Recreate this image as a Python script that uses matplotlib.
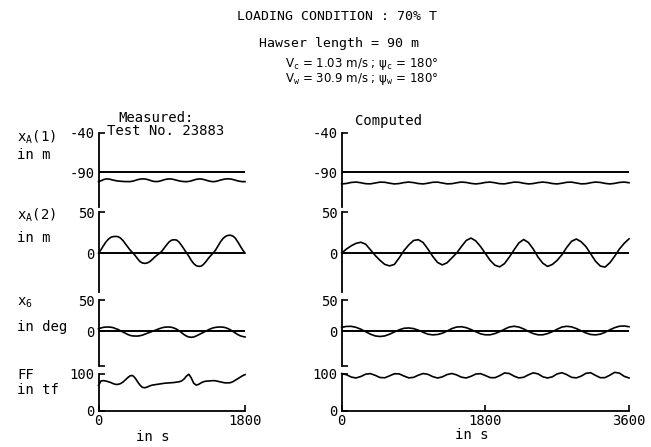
import numpy as np
import matplotlib
matplotlib.use('Agg')
import matplotlib.pyplot as plt

plt.rcParams['font.family'] = ['DejaVu Sans Mono', 'DejaVu Sans']
plt.rcParams['mathtext.fontset'] = 'custom'
plt.rcParams['mathtext.rm'] = 'DejaVu Sans Mono'
plt.rcParams['mathtext.it'] = 'DejaVu Sans Mono'

# measured run, 0..1800 s every 30 s
t_meas = np.arange(0, 1801, 30)
meas_xa1 = [-101.7, -100.8, -99.3, -98.4, -98.4, -99.0, -99.8, -100.5, -101.0, -101.3,
            -101.5, -101.7, -101.7, -101.7, -101.2, -100.3, -99.3, -98.6, -98.3, -98.4,
            -99.0, -100.0, -101.0, -101.6, -101.7, -101.2, -100.3, -99.3, -98.6, -98.3,
            -98.5, -99.2, -100.0, -100.8, -101.4, -101.7, -101.8, -101.5, -100.8, -99.8,
            -98.9, -98.4, -98.4, -99.0, -99.9, -100.8, -101.5, -101.8, -101.5, -100.7,
            -99.8, -99.0, -98.4, -98.2, -98.4, -99.0, -99.9, -100.8, -101.4, -101.8,
            -101.8]
meas_xa2 = [0, 4, 9, 13.5, 17, 19.3, 20.3, 20.5, 20.2, 18.5,
            15.5, 11.5, 7.5, 3.5, 0.5, -3, -7, -10.5, -12.3, -12.7,
            -12.2, -10.5, -8, -5, -2.5, -0.3, 2.5, 6.5, 10.5, 14,
            16, 16.4, 16, 13.5, 9.5, 5, 0.5, -4, -9, -13,
            -15.5, -16.4, -16.2, -14, -10.5, -6.5, -3, 0, 4, 9,
            14, 18, 20.5, 21.8, 22, 21, 18.5, 14, 9, 4,
            0]
meas_x6 = [3.5, 5, 6, 6.5, 6.5, 6.3, 5.5, 4, 2.5, 0.5,
           -1.5, -3.5, -5.5, -7, -7.8, -8, -8, -7.5, -6.5, -5,
           -3.5, -2, -0.5, 1, 2.5, 4, 5.3, 6.2, 6.5, 6.5,
           6, 4.8, 3, 0.5, -2.5, -5.5, -8, -9.5, -10, -9.5,
           -8, -6, -4, -2, 0, 2, 3.8, 5.2, 6, 6.5,
           6.5, 6.3, 5.5, 4, 2, -0.5, -3, -5.5, -7.5, -8.7,
           -9.5]
meas_ff = [68, 80, 81, 80, 78, 76, 73, 71, 71, 73,
           77, 83, 89, 94, 94.5, 88, 78, 69, 63, 62,
           64, 67, 69, 70, 71, 72, 73, 74, 74.5, 75,
           75.5, 76, 77, 78, 80, 85, 93, 98, 88, 74,
           69, 71, 75, 78, 79.5, 80, 80.5, 81, 80.5, 79,
           77.5, 76, 75, 75, 75.5, 78, 82, 86, 90, 94,
           97]

# computed run, 0..3600 s every 60 s
t_comp = np.arange(0, 3601, 60)
comp_xa1 = [-104.7, -104.1, -102.8, -102.3, -103.2, -104.4, -104.6, -103.5, -102.4, -102.6,
            -103.8, -104.7, -104.2, -103.0, -102.3, -103.0, -104.2, -104.7, -103.8, -102.6,
            -102.4, -103.5, -104.6, -104.4, -103.2, -102.3, -102.8, -104.0, -104.7, -104.0,
            -102.8, -102.3, -103.2, -104.4, -104.6, -103.5, -102.4, -102.6, -103.8, -104.7,
            -104.2, -103.0, -102.3, -103.0, -104.2, -104.7, -103.8, -102.6, -102.4, -103.5,
            -104.6, -104.4, -103.2, -102.3, -102.8, -104.0, -104.7, -104.0, -102.8, -102.3,
            -103.2]
comp_xa2 = [0, 5, 9, 12, 13.3, 11, 4, -3, -9, -14,
            -15.8, -14, -6, 3, 10, 15.5, 16.5, 13, 5, -4,
            -11.5, -14.6, -12, -6, 0, 8, 15.5, 18.5, 15, 8,
            -0.5, -9, -15, -17, -13, -5, 4, 12.5, 16.7, 13,
            5, -5, -12.5, -16.5, -14, -9, -2, 7, 14.5, 17.3,
            14, 8, -1, -10, -16, -17.3, -12, -4, 5, 12,
            17.5]
comp_x6 = [6, 7.5, 7.6, 6, 3, -1, -5, -7.8, -8.7, -7.8,
           -5, -1.5, 2, 4.5, 5, 4, 1.5, -2, -5, -6.1,
           -5.5, -3.5, 0, 4, 6.5, 7, 5.5, 2.5, -1, -4.5,
           -6, -6, -4, -1, 3, 6.5, 7.7, 6.5, 3.5, -0.5,
           -4, -6, -6, -4, -1, 3, 6.5, 7.7, 6.8, 4,
           0.5, -3, -5.5, -6.1, -5, -2, 2, 5.5, 7.8, 8.2,
           7]
comp_ff = [100, 96.7, 90.5, 88.1, 92, 98.2, 99.7, 95.1, 89.3, 88.6,
           93.8, 99.2, 99, 93.3, 88.4, 89.6, 95.5, 99.9, 97.8, 91.7,
           88, 90.9, 97.1, 100, 96.3, 90.2, 88.1, 92.5, 98.5, 99.6,
           94.7, 89, 88.8, 94.2, 101.4, 100, 92.9, 88.2, 89.9, 96.5,
           101.8, 99, 91.2, 88, 91.3, 99, 102, 97, 89.8, 88.3,
           92.9, 100.5, 102, 95, 88.8, 89, 95.5, 103, 101, 92.5,
           88.1]

xa1_ref = -90

W, H = 651, 447
fig = plt.figure(figsize=(W / 100, H / 100), dpi=100)


def px_axes(x0, x1, ytop, ybot):
    return fig.add_axes([x0 / W, 1 - ybot / H, (x1 - x0) / W, (ybot - ytop) / H])


def ftext(x, y, s, **kw):
    kw.setdefault('fontsize', 10)
    kw.setdefault('va', 'center')
    fig.text(x / W, 1 - y / H, s, **kw)


# rows: (ytop, ybot, ylim, yticks, yticklabels)
rows = [
    (133, 207, (-134, -40), [-40, -90], ['-40', '-90']),
    (212.5, 292, (-48, 50), [50, 0], ['50', '0']),
    (300, 366.5, (-57, 50), [50, 0, -57], ['50', '0', '']),
    (373.5, 411, (0, 100), [100, 0], ['100', '0']),
]

cols = [
    (98.5, 245, t_meas, [meas_xa1, meas_xa2, meas_x6, meas_ff], [0, 1800]),
    (341.7, 629, t_comp, [comp_xa1, comp_xa2, comp_x6, comp_ff], [0, 1800, 3600]),
]

for x0, x1, t, series, xt in cols:
    tmax = t[-1]
    for i, (ytop, ybot, ylim, yt, ytl) in enumerate(rows):
        ax = px_axes(x0, x1, ytop, ybot)
        ax.set_xlim(0, tmax)
        ax.set_ylim(*ylim)
        for s in ['top', 'right']:
            ax.spines[s].set_visible(False)
        ax.spines['left'].set_linewidth(1.3)
        ax.spines['bottom'].set_linewidth(1.3)
        ax.set_yticks(yt)
        ax.set_yticklabels(ytl)
        ax.tick_params(axis='y', direction='in', length=4, width=1.2, pad=3, labelsize=10)
        if i == 3:
            ax.set_xticks(xt)
            ax.set_xticklabels([str(v) for v in xt])
            ax.tick_params(axis='x', direction='in', length=4, width=1.2, pad=2, labelsize=10)
        else:
            ax.spines['bottom'].set_visible(False)
            ax.set_xticks([])
        if i == 0:
            ax.plot([0, tmax], [xa1_ref, xa1_ref], color='black', lw=1.4)
        elif i in (1, 2):
            ax.plot([0, tmax], [0, 0], color='black', lw=1.4)
        ax.plot(t, series[i], color='black', lw=1.2, clip_on=False)

# header
ftext(337, 17, 'LOADING CONDITION : 70% T', ha='center', fontsize=9.5)
ftext(339, 43, 'Hawser length = 90 m', ha='center', fontsize=9.5)
ftext(438, 64, r'V$_\mathrm{c}$ = 1.03 m/s ; ψ$_\mathrm{c}$ = 180°', ha='right',
      fontsize=8.5, family='DejaVu Sans')
ftext(438, 79, r'V$_\mathrm{w}$ = 30.9 m/s ; ψ$_\mathrm{w}$ = 180°', ha='right',
      fontsize=8.5, family='DejaVu Sans')

ftext(118, 118, 'Measured:', ha='left')
ftext(107, 131, 'Test No. 23883', ha='left')
ftext(355, 121, 'Computed', ha='left')

# quantity labels
ftext(17, 137, r'x$_\mathrm{A}$(1)', ha='left')
ftext(17, 155, 'in m', ha='left')
ftext(17, 215, r'x$_\mathrm{A}$(2)', ha='left')
ftext(17, 238, 'in m', ha='left')
ftext(17, 303, r'x$_6$', ha='left')
ftext(17, 327, 'in deg', ha='left')
ftext(17, 375, 'FF', ha='left')
ftext(17, 390, 'in tf', ha='left')

ftext(153, 437, 'in s', ha='center')
ftext(472, 435, 'in s', ha='center')

fig.savefig('out.png', dpi=100)
